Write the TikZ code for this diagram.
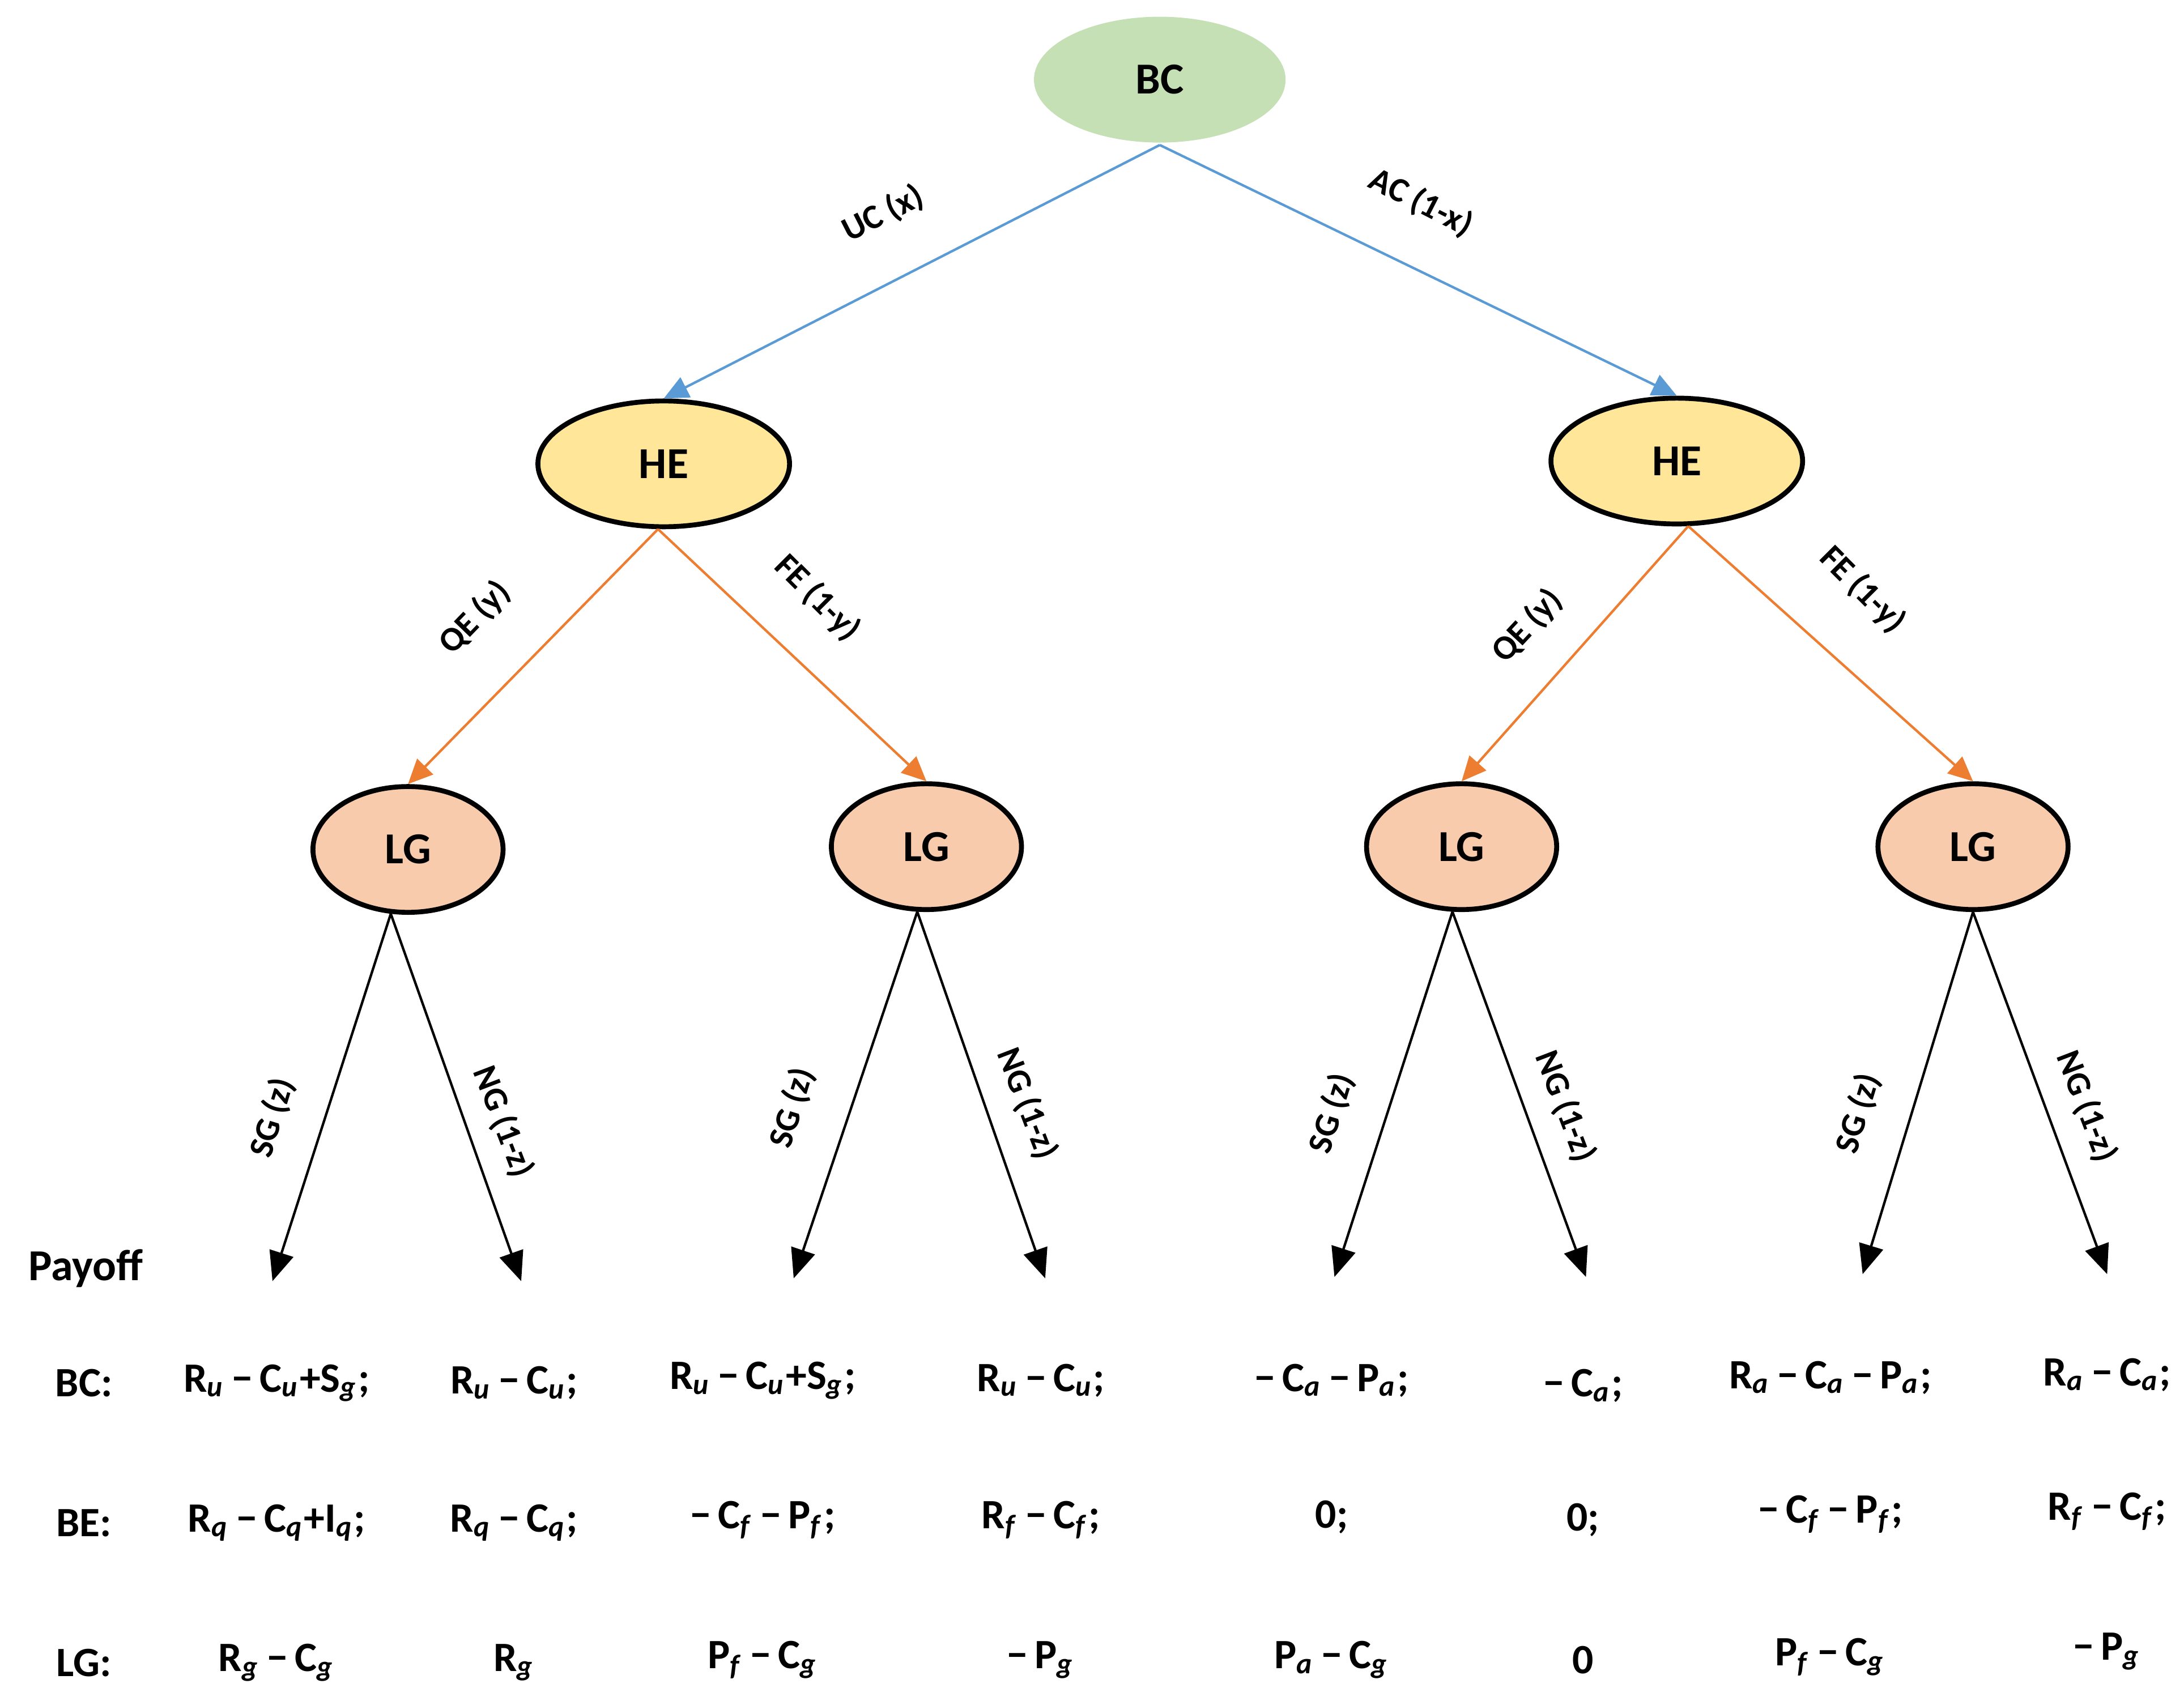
\documentclass[tikz,border=0pt]{standalone}
\usepackage{fontspec}
\setmainfont{Carlito}
\usetikzlibrary{arrows.meta,shapes.geometric}
\newcommand\qs[2]{#1\textsubscript{\textit{#2}}}
\newcommand\mi{\,−\,}
\definecolor{gfill}{HTML}{C5E0B4}
\definecolor{yfill}{HTML}{FFE699}
\definecolor{ofill}{HTML}{F8CBAD}
\definecolor{bl}{HTML}{5B9BD5}
\definecolor{or}{HTML}{ED7D31}
\begin{document}
\begin{tikzpicture}[x=0.01cm,y=-0.01cm,font=\bfseries,
  big/.style={ellipse,draw=black,line width=1pt,minimum width=1.8cm,minimum height=0.9cm,font=\fontsize{9}{10}\selectfont\bfseries},
  lg/.style={ellipse,draw=black,line width=1pt,fill=ofill,minimum width=1.36cm,minimum height=0.9cm,font=\fontsize{9}{10}\selectfont\bfseries},
  ar/.style={-{Triangle[length=5pt,width=4.5pt]},line width=0.5pt},
  lab/.style={font=\fontsize{7}{8}\selectfont\bfseries,inner sep=1pt},
  pay/.style={font=\fontsize{8.5}{9}\selectfont\bfseries}]
\useasboundingbox (0,0) rectangle (1563,1220);
\node[big,draw=none,fill=gfill] (BC) at (830,57) {BC};
\node[big,fill=yfill] (HEL) at (475,332) {HE};
\node[big,fill=yfill] (HER) at (1200,330) {HE};
\node[lg] (L1) at (292,608) {LG};
\node[lg] (L2) at (663,606) {LG};
\node[lg] (L3) at (1046,606) {LG};
\node[lg] (L4) at (1412,606) {LG};
\draw[ar,bl] (BC.south) -- (HEL.north);
\draw[ar,bl] (BC.south) -- (HER.north);
\draw[ar,or] (HEL.-95) -- (L1.north);
\draw[ar,or] (HEL.-95) -- (L2.north);
\draw[ar,or] (HER.-80) -- (L3.north);
\draw[ar,or] (HER.-80) -- (L4.north);
\foreach \n/\a/\b/\c/\s in {L1/195/373/917/-105,L2/568/748/915/-98,L3/955/1135/914/-98,L4/1333/1508/912/-90}{
  \coordinate (\n a) at (\a,\c); \coordinate (\n b) at (\b,\c);
  \draw[ar,-{Triangle[length=6pt,width=5pt]}] (\n.\s) -- (\n a);
  \draw[ar,-{Triangle[length=6pt,width=5pt]}] (\n.\s) -- (\n b);}
\node[lab,rotate=27] (t1) at (632,153) {UC (x)};
\node[lab,rotate=-27] (t2) at (1017,145) {AC (1-x)};
\node[lab,rotate=46] (t3) at (340,442) {QE (y)};
\node[lab,rotate=-45] (t4) at (585,428) {FE (1-y)};
\node[lab,rotate=47] (t5) at (1093,448) {QE (y)};
\node[lab,rotate=-45] (t6) at (1333,422) {FE (1-y)};
\foreach \x/\y/\X/\Y [count=\i] in {195/800/360/803,567/793/735/790,953/797/1120/792,1330/797/1493/792}{
  \node[lab,rotate=73] (s\i) at (\x,\y) {SG (z)};
  \node[lab,rotate=-69] (n\i) at (\X,\Y) {NG (1-z)};}
\node[pay,anchor=west,font=\fontsize{9}{10}\selectfont\bfseries] (po) at (8,908) {Payoff};
\node[pay] (r1) at (60,990) {BC:};
\node[pay] (r2) at (60,1090) {BE:};
\node[pay] (r3) at (60,1190) {LG:};
\node[pay] at (198,990) {\qs{R}{u}\mi\qs{C}{u}+\qs{S}{g};};
\node[pay] at (368,990) {\qs{R}{u}\mi\qs{C}{u};};
\node[pay] at (546,988) {\qs{R}{u}\mi\qs{C}{u}+\qs{S}{g};};
\node[pay] at (745,988) {\qs{R}{u}\mi\qs{C}{u};};
\node[pay] at (953,988) {−\,\qs{C}{a}\mi\qs{P}{a};};
\node[pay] at (1133,992) {−\,\qs{C}{a};};
\node[pay] at (1310,986) {\qs{R}{a}\mi\qs{C}{a}\mi\qs{P}{a};};
\node[pay] at (1508,984) {\qs{R}{a}\mi\qs{C}{a};};
\node[pay] at (198,1090) {\qs{R}{q}\mi\qs{C}{q}+\qs{I}{q};};
\node[pay] at (368,1090) {\qs{R}{q}\mi\qs{C}{q};};
\node[pay] at (546,1088) {−\,\qs{C}{f}\mi\qs{P}{f};};
\node[pay] at (745,1088) {\qs{R}{f}\mi\qs{C}{f};};
\node[pay] at (953,1086) {0;};
\node[pay] at (1133,1088) {0;};
\node[pay] at (1310,1084) {−\,\qs{C}{f}\mi\qs{P}{f};};
\node[pay] at (1508,1082) {\qs{R}{f}\mi\qs{C}{f};};
\node[pay] at (198,1190) {\qs{R}{g}\mi\qs{C}{g}};
\node[pay] at (368,1190) {\qs{R}{g}};
\node[pay] at (546,1188) {\qs{P}{f}\mi\qs{C}{g}};
\node[pay] at (745,1188) {−\,\qs{P}{g}};
\node[pay] at (953,1188) {\qs{P}{a}\mi\qs{C}{g}};
\node[pay] at (1133,1188) {0};
\node[pay] at (1310,1186) {\qs{P}{f}\mi\qs{C}{g}};
\node[pay] at (1508,1182) {−\,\qs{P}{g}};
\end{tikzpicture}
\end{document}
